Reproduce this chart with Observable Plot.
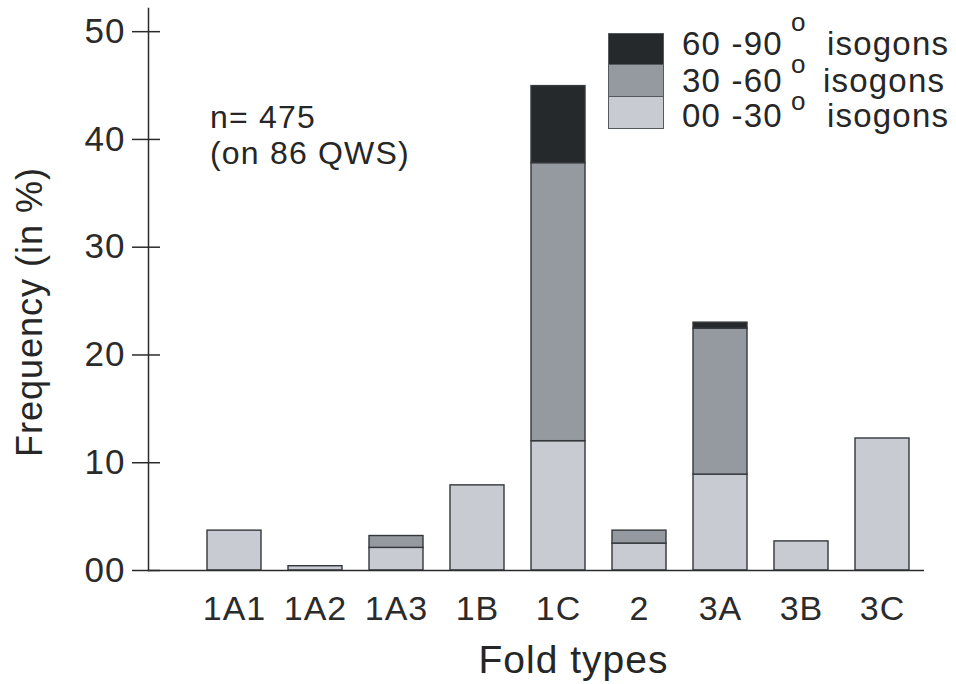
<!DOCTYPE html>
<html>
<head>
<meta charset="utf-8">
<script src="https://cdn.jsdelivr.net/npm/d3@7"></script>
<script src="https://cdn.jsdelivr.net/npm/@observablehq/plot@0.6"></script>
<style>
  html, body { margin: 0; padding: 0; background: #fff; }
  #wrap { position: relative; width: 956px; height: 684px; font-family: "Liberation Sans", Arial, sans-serif; color: #262626; }
  #wrap svg { font-family: "Liberation Sans", Arial, sans-serif; letter-spacing: 1px; }
  .t { position: absolute; white-space: nowrap; line-height: 1; letter-spacing: 1.2px; }
  .sw { position: absolute; left: 608px; width: 56px; box-sizing: border-box; border: 1.5px solid #555a5e; }
  #ylab { position: absolute; left: 30px; top: 312px; transform: translate(-50%, -50%) rotate(-90deg); font-size: 36px; line-height: 1; letter-spacing: 1px; white-space: nowrap; }
</style>
</head>
<body>
<div id="wrap"></div>
<script>
// ---- data ----
const categories = ["1A1", "1A2", "1A3", "1B", "1C", "2", "3A", "3B", "3C"];
const iso00_30 = [3.7, 0.4, 2.1, 7.9, 12.0, 2.5, 8.9, 2.7, 12.25];
const iso30_60 = [0, 0, 1.1, 0, 25.8, 1.2, 13.55, 0, 0];
const iso60_90 = [0, 0, 0, 0, 7.15, 0, 0.55, 0, 0];
const seriesKeys = ["00 -30", "30 -60", "60 -90"];
const seriesColors = ["#c8cbd2", "#959aa1", "#25292c"];
const yTicks = [0, 10, 20, 30, 40, 50];
const yTickLabels = ["00", "10", "20", "30", "40", "50"];

const rows = categories.flatMap((c, i) => [
  {cat: c, s: seriesKeys[0], v: iso00_30[i]},
  {cat: c, s: seriesKeys[1], v: iso30_60[i]},
  {cat: c, s: seriesKeys[2], v: iso60_90[i]}
]).filter(d => d.v > 0);

const chart = Plot.plot({
  width: 956,
  height: 684,
  marginLeft: 148,
  marginRight: 32,
  marginTop: 8,
  marginBottom: 114,
  style: {color: "#2b2b2b", background: "transparent"},
  x: {domain: categories, range: [176, 940], padding: 0.33, axis: null},
  y: {domain: [0, 52.15], axis: null},
  color: {domain: seriesKeys, range: seriesColors},
  marks: [
    Plot.barY(rows, {x: "cat", y: "v", fill: "s", order: seriesKeys, stroke: "#34383b", strokeWidth: 1.4}),
    Plot.frame({anchor: "left", stroke: "#2b2b2b", strokeWidth: 1.5}),
    Plot.ruleY([0], {stroke: "#2b2b2b", strokeWidth: 1.5}),
    Plot.axisY(yTicks, {tickSize: 28, dx: 12, tickPadding: 7, strokeWidth: 1.5,
      tickFormat: d => yTickLabels[yTicks.indexOf(d)], fontSize: 35, label: null}),
    Plot.axisX({tickSize: 0, tickPadding: 25, fontSize: 34, label: null}),
    Plot.text(["Fold types"], {frameAnchor: "bottom", dx: 37, dy: 102, fontSize: 39, fill: "#262626"})
  ]
});

const wrap = document.getElementById("wrap");
wrap.appendChild(chart);

// ---- y axis title ----
const ylab = document.createElement("div");
ylab.id = "ylab";
ylab.textContent = "Frequency (in %)";
wrap.appendChild(ylab);

// ---- annotation ----
const annot = [["n= 475", 101], ["(on 86 QWS)", 137]];
for (const [txt, top] of annot) {
  const d = document.createElement("div");
  d.className = "t";
  d.style.cssText = `left:210px; top:${top}px; font-size:32px;`;
  d.textContent = txt;
  wrap.appendChild(d);
}

// ---- legend ----
const legendRows = [
  {label: "60 -90", color: seriesColors[2], swTop: 33, top: 27, oTop: 9, isoLeft: 827},
  {label: "30 -60", color: seriesColors[1], swTop: 64, top: 64, oTop: 51, isoLeft: 823},
  {label: "00 -30", color: seriesColors[0], swTop: 96, top: 99, oTop: 88, isoLeft: 827}
];
for (const r of legendRows) {
  const sw = document.createElement("div");
  sw.className = "sw";
  sw.style.cssText = `top:${r.swTop}px; height:33px; background:${r.color};`;
  wrap.appendChild(sw);
  const a = document.createElement("div");
  a.className = "t"; a.style.cssText = `left:682px; top:${r.top}px; font-size:33px;`;
  a.textContent = r.label; wrap.appendChild(a);
  const o = document.createElement("div");
  o.className = "t"; o.style.cssText = `left:791px; top:${r.oTop}px; font-size:26px;`;
  o.textContent = "o"; wrap.appendChild(o);
  const b = document.createElement("div");
  b.className = "t"; b.style.cssText = `left:${r.isoLeft}px; top:${r.top}px; font-size:33px;`;
  b.textContent = "isogons"; wrap.appendChild(b);
}
</script>
</body>
</html>
